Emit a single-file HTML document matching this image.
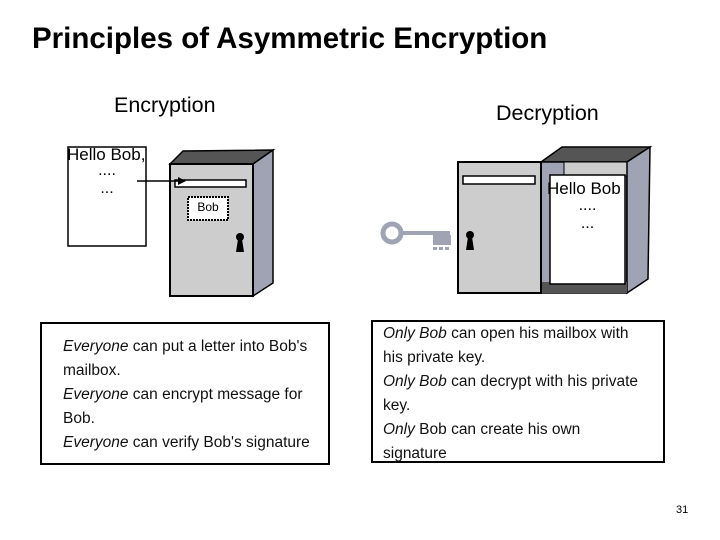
<!DOCTYPE html>
<html><head><meta charset="utf-8"><style>
body{margin:0;width:720px;height:540px;background:#fff;position:relative;overflow:hidden;font-family:"Liberation Sans",Arial,sans-serif}
.a{position:absolute;white-space:nowrap}
.box{position:absolute;border:2px solid #000;box-sizing:border-box;font-size:15.5px;line-height:24px;color:#111}
i{font-style:italic}
</style></head><body>
<div class="a" style="left:32px;top:22px;font-size:29.5px;font-weight:bold">Principles of Asymmetric Encryption</div>
<div class="a" style="left:114px;top:93px;font-size:21.5px">Encryption</div>
<div class="a" style="left:496px;top:101px;font-size:21.5px">Decryption</div>

<svg style="position:absolute;left:0;top:0" width="720" height="540">
<rect x="68" y="147" width="78" height="99" fill="#fff" stroke="#000" stroke-width="1.5"/>
<polygon points="170,164 183,151 273,150 253,164" fill="#555" stroke="#000" stroke-width="1.5"/>
<polygon points="253,164 273,150 273,283 253,296" fill="#a0a3b3" stroke="#000" stroke-width="1.5"/>
<rect x="170" y="164" width="83" height="132" fill="#cdcdcd" stroke="#000" stroke-width="2"/>
<rect x="175" y="180" width="71" height="7" fill="#fff" stroke="#000" stroke-width="1.5"/>
<rect x="188" y="197" width="40" height="23" fill="#fff" stroke="#000" stroke-width="2" stroke-dasharray="2,1"/>
<circle cx="240" cy="237" r="4" fill="#000"/><polygon points="238,239 242,239 244,252 236,252" fill="#000"/>
<line x1="137" y1="181" x2="182" y2="181" stroke="#000" stroke-width="1.5"/>
<polygon points="186,181 178,177 178,185" fill="#000"/>
<polygon points="541,162 562,147 650,147 627,162" fill="#555" stroke="#000" stroke-width="1.5"/>
<rect x="541" y="162" width="86" height="131" fill="#a0a3b3" stroke="#000" stroke-width="1.5"/>
<rect x="564" y="162" width="63" height="14" fill="#ccc" stroke="#000" stroke-width="1"/>
<polygon points="627,162 650,147 648,279 627,293" fill="#a0a3b3" stroke="#000" stroke-width="1.5"/>
<rect x="541" y="282" width="86" height="11" fill="#555"/>
<rect x="550" y="175" width="75" height="109" fill="#fff" stroke="#000" stroke-width="1.5"/>
<rect x="458" y="162" width="83" height="131" fill="#cdcdcd" stroke="#000" stroke-width="2"/>
<rect x="463" y="176" width="72" height="8" fill="#fff" stroke="#000" stroke-width="1.5"/>
<circle cx="470" cy="235" r="4" fill="#000"/><polygon points="468,237 472,237 474,250 466,250" fill="#000"/>
<circle cx="392" cy="233" r="9" fill="none" stroke="#a0a3b3" stroke-width="5"/>
<rect x="400" y="231" width="50" height="4" fill="#a0a3b3"/>
<rect x="433" y="235" width="18" height="10" fill="#a0a3b3"/>
<rect x="433" y="247" width="4" height="3" fill="#a0a3b3"/><rect x="439" y="247" width="4" height="3" fill="#a0a3b3"/><rect x="445" y="247" width="4" height="3" fill="#a0a3b3"/>
</svg>
<div class="a" style="left:67px;top:145px;font-size:17px;width:90px">Hello Bob,</div>
<div class="a" style="left:68px;top:162px;font-size:16px;width:78px;text-align:center;line-height:18px">....<br>...</div>
<div class="a" style="left:188px;top:200px;font-size:12px;width:40px;text-align:center">Bob</div>
<div class="a" style="left:547px;top:179px;font-size:17px">Hello Bob</div>
<div class="a" style="left:550px;top:197px;font-size:16px;width:75px;text-align:center;line-height:18px">....<br>...</div>

<div class="box" style="left:40px;top:322px;width:290px;height:143px;padding:11px 0 0 21px">
<i>Everyone</i> can put a letter into Bob's<br>mailbox.<br><i>Everyone</i> can encrypt message for<br>Bob.<br><i>Everyone</i> can verify Bob's signature</div>
<div class="box" style="left:371px;top:320px;width:294px;height:143px;padding:0 0 0 10px">
<i>Only Bob</i> can open his mailbox with<br>his private key.<br><i>Only Bob</i> can decrypt with his private<br>key.<br><i>Only</i> Bob can create his own<br>signature</div>
<div class="a" style="left:676px;top:504px;font-size:11px">31</div>
</body></html>
